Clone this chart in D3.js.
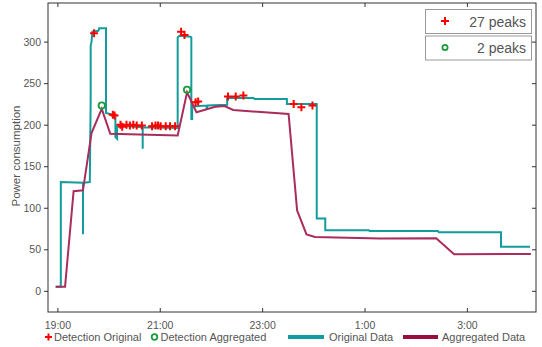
<!DOCTYPE html>
<html>
<head>
<meta charset="utf-8">
<script src="https://cdn.jsdelivr.net/npm/d3@7"></script>
<style>
  body { margin: 0; background: #fff; }
  text { font-family: "Liberation Sans", Arial, sans-serif; fill: #555; }
</style>
</head>
<body>
<svg id="chart" width="542" height="347"></svg>
<script>
// original data (teal)
const origTime = ['18:58','19:04','19:04','19:30','19:30','19:30','19:38','19:39','19:39','19:40','19:41','19:48','19:49','19:57','19:57','20:05','20:08','20:08','20:10','20:10','20:40','20:40','20:40','21:21','21:21','21:23','21:36','21:37','21:37','21:38','21:38','21:55','21:55','21:56','22:19','22:19','22:50','22:51','23:29','23:29','00:04','00:04','00:14','00:14','01:05','01:06','02:26','02:27','03:40','03:40','04:14'];
const origValue = [5,5,131,130,68,130,131,228,295,300,312,313,316,316,214,212,210,185,183,199,197,171,197,196,305,307,306,305,207,207,222,223,218,223,224,232,232,231,231,225,225,87,87,73,73,72,72,70.5,70.5,53,53];

// aggregated data (crimson)
const aggTime = ['18:58','19:09','19:19','19:30','19:40','19:52','20:02','21:21','21:32','21:43','22:05','22:16','22:26','23:31','23:41','23:52','00:02','01:18','02:24','02:45','04:15'];
const aggValue = [5,5,120,121,190,219,189,187,239,215,221.6,222.5,217.7,212.9,96.8,68,64.8,62.9,63.2,44,44.4];

// detections on original data (27 peaks)
const detOrigTime = ['19:43','20:05','20:07','20:14','20:16','20:21','20:25','20:29','20:33','20:39','20:51','20:55','20:58','21:01','21:07','21:12','21:18','21:25','21:29','21:42','21:45','22:20','22:29','22:38','23:37','23:46','23:59'];
const detOrigValue = [310,212,211,200,197.6,200,199,200,199,199,198,199,199,198,198,198,198,312,308,227,228,234,234,235,225,221,223];

// detections on aggregated data (2 peaks)
const detAggTime = ['19:52','21:32'];
const detAggValue = [223,242];

const xTickLabels = ['19:00','21:00','23:00','1:00','3:00'];
const yTicks = [0, 50, 100, 150, 200, 250, 300];
const legendBoxes = ['27 peaks', '2 peaks'];
const legendBottom = ['Detection Original', 'Detection Aggregated', 'Original Data', 'Aggregated Data'];

const TEAL = '#129c9b';
const CRIMSON = '#a82c5c';

function parseT(s) {
  const [h, m] = s.split(':').map(Number);
  const hh = h < 12 ? h + 24 : h;
  return new Date(2020, 0, 1, hh, m);
}

const svg = d3.select('#chart');
const margin = { top: 3, right: 6, bottom: 35, left: 48 };
const width = 542 - margin.left - margin.right;
const height = 347 - margin.top - margin.bottom;

const x = d3.scaleTime()
  .domain([parseT('18:49'), parseT('04:21')])
  .range([margin.left, margin.left + width]);

const y = d3.scaleLinear()
  .domain([-25.5, 346.5])
  .range([margin.top + height, margin.top]);

const g = svg.append('g');

// frame
g.append('rect')
  .attr('x', margin.left)
  .attr('y', margin.top)
  .attr('width', width)
  .attr('height', height)
  .attr('fill', 'none')
  .attr('stroke', '#333')
  .attr('stroke-width', 1);

const xTicks = xTickLabels.map(parseT);

// bottom axis (ticks inward)
const xAxis = g.append('g')
  .attr('transform', `translate(0,${margin.top + height})`)
  .call(d3.axisBottom(x).tickValues(xTicks).tickSizeInner(-4).tickSizeOuter(0)
    .tickPadding(10).tickFormat(d3.timeFormat('%-H:%M')));
xAxis.select('.domain').remove();
xAxis.selectAll('line').attr('stroke', '#333');
xAxis.selectAll('text').style('font-size', '10.5px').attr('fill', '#555');

// top axis ticks
const xTop = g.append('g')
  .attr('transform', `translate(0,${margin.top})`)
  .call(d3.axisTop(x).tickValues(xTicks).tickSizeInner(-4).tickSizeOuter(0).tickFormat(''));
xTop.select('.domain').remove();
xTop.selectAll('line').attr('stroke', '#333');

// left axis (ticks outward)
const yAxis = g.append('g')
  .attr('transform', `translate(${margin.left},0)`)
  .call(d3.axisLeft(y).tickValues(yTicks).tickSizeInner(4).tickSizeOuter(0).tickPadding(3));
yAxis.select('.domain').remove();
yAxis.selectAll('line').attr('stroke', '#333');
yAxis.selectAll('text').style('font-size', '10.5px').attr('fill', '#555');

// right axis ticks
const yRight = g.append('g')
  .attr('transform', `translate(${margin.left + width},0)`)
  .call(d3.axisRight(y).tickValues(yTicks).tickSizeInner(-4).tickSizeOuter(0).tickFormat(''));
yRight.select('.domain').remove();
yRight.selectAll('line').attr('stroke', '#333');

// y label
svg.append('text')
  .attr('transform', `translate(20,156) rotate(-90)`)
  .attr('text-anchor', 'middle')
  .style('font-size', '11.5px')
  .text('Power consumption');

const line = d3.line()
  .x(d => x(d[0]))
  .y(d => y(d[1]));

const orig = origTime.map((t, i) => [parseT(t), origValue[i]]);
const agg = aggTime.map((t, i) => [parseT(t), aggValue[i]]);

g.append('path')
  .datum(orig)
  .attr('fill', 'none')
  .attr('stroke', TEAL)
  .attr('stroke-width', 2)
  .attr('d', line);

g.append('path')
  .datum(agg)
  .attr('fill', 'none')
  .attr('stroke', CRIMSON)
  .attr('stroke-width', 2)
  .attr('d', line);

const plus = d3.symbol().type(d3.symbolCross);
function drawPlus(sel, cx, cy, s) {
  sel.append('path')
    .attr('d', `M${cx - s},${cy}H${cx + s}M${cx},${cy - s}V${cy + s}`)
    .attr('stroke', '#ff0000')
    .attr('stroke-width', 2)
    .attr('fill', 'none');
}

detOrigTime.forEach((t, i) => {
  drawPlus(g, x(parseT(t)), y(detOrigValue[i]), 4);
});

g.selectAll('.det-agg')
  .data(detAggTime.map((t, i) => [parseT(t), detAggValue[i]]))
  .enter()
  .append('circle')
  .attr('class', 'det-agg')
  .attr('cx', d => x(d[0]))
  .attr('cy', d => y(d[1]))
  .attr('r', 3.2)
  .attr('fill', 'none')
  .attr('stroke', '#1a9a3a')
  .attr('stroke-width', 1.8);

// legend boxes top right
const lb = svg.append('g');
legendBoxes.forEach((label, i) => {
  const top = 9.5 + i * 26.5;
  lb.append('rect')
    .attr('x', 425.5).attr('y', top)
    .attr('width', 106).attr('height', 24)
    .attr('fill', '#fff')
    .attr('stroke', '#999')
    .attr('stroke-width', 1);
  if (i === 0) {
    drawPlus(lb, 445, top + 11.5, 4);
  } else {
    lb.append('circle')
      .attr('cx', 445).attr('cy', top + 11.5).attr('r', 2.6)
      .attr('fill', 'none').attr('stroke', '#1a9a3a').attr('stroke-width', 1.8);
  }
  lb.append('text')
    .attr('x', 526).attr('y', top + 17)
    .attr('text-anchor', 'end')
    .style('font-size', '14px')
    .text(label);
});

// bottom legend
const bl = svg.append('g');
const ly = 337;
drawPlus(bl, 48.5, ly, 3.5);
bl.append('text').attr('x', 54).attr('y', ly + 4).style('font-size', '11px').text(legendBottom[0]);
bl.append('circle').attr('cx', 154.5).attr('cy', ly).attr('r', 2.8)
  .attr('fill', 'none').attr('stroke', '#1a9a3a').attr('stroke-width', 1.8);
bl.append('text').attr('x', 160.5).attr('y', ly + 4).style('font-size', '11px').text(legendBottom[1]);
bl.append('line').attr('x1', 288).attr('x2', 324).attr('y1', ly).attr('y2', ly)
  .attr('stroke', TEAL).attr('stroke-width', 4);
bl.append('text').attr('x', 329).attr('y', ly + 4).style('font-size', '11px').text(legendBottom[2]);
bl.append('line').attr('x1', 403).attr('x2', 438).attr('y1', ly).attr('y2', ly)
  .attr('stroke', '#9b0b40').attr('stroke-width', 4);
bl.append('text').attr('x', 442).attr('y', ly + 4).style('font-size', '11px').text(legendBottom[3]);
</script>
</body>
</html>
